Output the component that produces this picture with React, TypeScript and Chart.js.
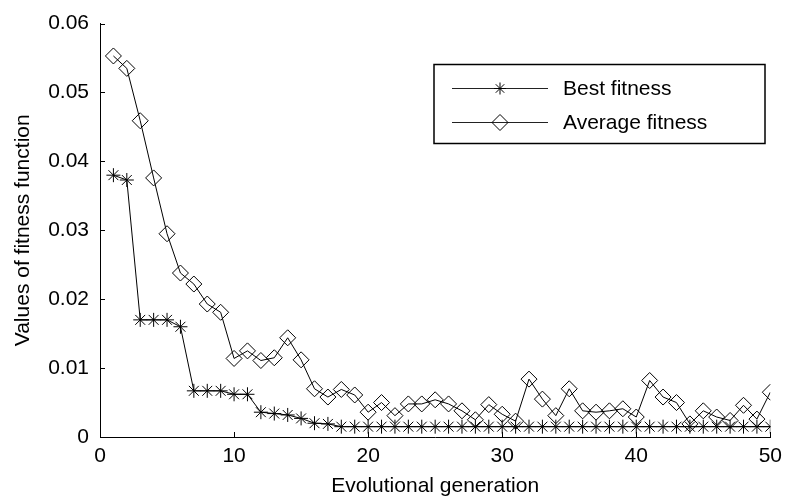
import React, { useEffect, useRef } from 'react';
import { Chart, registerables } from 'chart.js';

Chart.register(...registerables);

const generations = [
  1, 2, 3, 4, 5, 6, 7, 8, 9, 10,
  11, 12, 13, 14, 15, 16, 17, 18, 19, 20,
  21, 22, 23, 24, 25, 26, 27, 28, 29, 30,
  31, 32, 33, 34, 35, 36, 37, 38, 39, 40,
  41, 42, 43, 44, 45, 46, 47, 48, 49, 50,
];

const bestFitness = [
  0.038, 0.0373, 0.017, 0.017, 0.017, 0.016, 0.0067, 0.0067, 0.0067, 0.0062,
  0.0062, 0.0036, 0.0034, 0.0032, 0.0027, 0.002, 0.0019, 0.0015, 0.0015, 0.0015,
  0.0015, 0.0015, 0.0015, 0.0015, 0.0015, 0.0015, 0.0015, 0.0015, 0.0015, 0.0015,
  0.0015, 0.0015, 0.0015, 0.0015, 0.0015, 0.0015, 0.0015, 0.0015, 0.0015, 0.0015,
  0.0015, 0.0015, 0.0015, 0.0015, 0.0015, 0.0015, 0.0015, 0.0015, 0.0015, 0.0015,
];

const averageFitness = [
  0.0553, 0.0535, 0.0459, 0.0376, 0.0295, 0.0238, 0.0222, 0.0193, 0.0181, 0.0114,
  0.0125, 0.0111, 0.0115, 0.0144, 0.0112, 0.007, 0.0058, 0.0069, 0.0061, 0.0036,
  0.005, 0.0031, 0.0048, 0.0048, 0.0054, 0.0048, 0.0038, 0.0025, 0.0047, 0.0033,
  0.0023, 0.0084, 0.0055, 0.0031, 0.007, 0.0038, 0.0036, 0.0038, 0.0041, 0.0029,
  0.0082, 0.0058, 0.005, 0.0019, 0.0038, 0.0029, 0.0024, 0.0046, 0.0026, 0.0065,
];

const xTickValues = [0, 10, 20, 30, 40, 50];
const yTickValues = [0, 0.01, 0.02, 0.03, 0.04, 0.05, 0.06];
const seriesNames = ['Best fitness', 'Average fitness'];
const xTitle = 'Evolutional generation';
const yTitle = 'Values of fitness function';

const FONT = "'Liberation Sans', Arial, Helvetica, sans-serif";

function drawStar(ctx: CanvasRenderingContext2D, x: number, y: number, r: number) {
  ctx.beginPath();
  ctx.moveTo(x - r, y); ctx.lineTo(x + r, y);
  ctx.moveTo(x, y - r); ctx.lineTo(x, y + r);
  const d = r * Math.SQRT1_2;
  ctx.moveTo(x - d, y - d); ctx.lineTo(x + d, y + d);
  ctx.moveTo(x - d, y + d); ctx.lineTo(x + d, y - d);
  ctx.stroke();
}

function drawDiamond(ctx: CanvasRenderingContext2D, x: number, y: number, r: number) {
  ctx.beginPath();
  ctx.moveTo(x - r, y);
  ctx.lineTo(x, y - r);
  ctx.lineTo(x + r, y);
  ctx.lineTo(x, y + r);
  ctx.closePath();
  ctx.stroke();
}

export default function App() {
  const ref = useRef<HTMLCanvasElement>(null);

  useEffect(() => {
    document.body.style.margin = '0';
    if (!ref.current) return;

    const inwardTicks = {
      id: 'inwardTicks',
      afterDatasetsDraw(chart: any) {
        const { ctx, scales, chartArea } = chart;
        ctx.save();
        ctx.strokeStyle = '#000';
        ctx.lineWidth = 1;
        ctx.beginPath();
        yTickValues.forEach((v) => {
          const py = Math.round(scales.y.getPixelForValue(v)) + 0.5;
          ctx.moveTo(chartArea.left, py);
          ctx.lineTo(chartArea.left + 5, py);
        });
        xTickValues.forEach((v) => {
          const px = Math.round(scales.x.getPixelForValue(v)) + 0.5;
          ctx.moveTo(px, chartArea.bottom);
          ctx.lineTo(px, chartArea.bottom - 5);
        });
        ctx.stroke();
        ctx.restore();
      },
    };

    const boxLegend = {
      id: 'boxLegend',
      afterDraw(chart: any) {
        const ctx = chart.ctx as CanvasRenderingContext2D;
        ctx.save();
        ctx.strokeStyle = '#000';
        ctx.lineWidth = 1.5;
        ctx.strokeRect(434, 64.5, 331, 79);
        const rows = [88, 122];
        rows.forEach((ry, i) => {
          ctx.strokeStyle = '#222';
          ctx.lineWidth = 1;
          ctx.beginPath();
          ctx.moveTo(452, ry + 0.5);
          ctx.lineTo(548, ry + 0.5);
          ctx.stroke();
          ctx.strokeStyle = '#000';
          if (i === 0) drawStar(ctx, 500, ry + 0.5, 6);
          else drawDiamond(ctx, 500, ry + 0.5, 8);
          ctx.fillStyle = '#000';
          ctx.font = `21px ${FONT}`;
          ctx.textAlign = 'left';
          ctx.textBaseline = 'middle';
          ctx.fillText(seriesNames[i], 563, ry + 1);
        });
        ctx.restore();
      },
    };

    const chart = new Chart(ref.current, {
      type: 'line',
      data: {
        datasets: [
          {
            label: seriesNames[0],
            data: generations.map((g, i) => ({ x: g, y: bestFitness[i] })),
            borderColor: '#000',
            borderWidth: 1,
            pointStyle: 'star',
            pointRadius: 7,
            pointBorderColor: '#000',
            pointBorderWidth: 1,
            pointBackgroundColor: 'rgba(0,0,0,0)',
            tension: 0,
            fill: false,
          },
          {
            label: seriesNames[1],
            data: generations.map((g, i) => ({ x: g, y: averageFitness[i] })),
            borderColor: '#000',
            borderWidth: 1,
            pointStyle: 'rectRot',
            pointRadius: 8,
            pointBorderColor: '#000',
            pointBorderWidth: 1,
            pointBackgroundColor: 'rgba(0,0,0,0)',
            tension: 0,
            fill: false,
          },
        ],
      },
      options: {
        responsive: false,
        animation: false,
        layout: { padding: { top: 19, right: 14, bottom: 0, left: 0 } },
        plugins: {
          legend: { display: false },
          tooltip: { enabled: false },
        },
        scales: {
          x: {
            type: 'linear',
            min: 0,
            max: 50,
            afterBuildTicks(scale: any) {
              scale.ticks = xTickValues.map((v) => ({ value: v }));
            },
            afterFit(scale: any) {
              scale.height = 62;
            },
            grid: { display: false, drawTicks: false },
            border: { display: true, color: '#000', width: 1 },
            ticks: {
              color: '#000',
              font: { family: FONT, size: 21 },
              padding: 7,
              maxRotation: 0,
              autoSkip: false,
            },
            title: {
              display: true,
              text: xTitle,
              color: '#000',
              font: { family: FONT, size: 21 },
              padding: { top: 0, bottom: 0 },
            },
          },
          y: {
            type: 'linear',
            min: 0,
            max: 0.06,
            afterBuildTicks(scale: any) {
              scale.ticks = yTickValues.map((v) => ({ value: v }));
            },
            afterFit(scale: any) {
              scale.width = 100;
            },
            grid: { display: false, drawTicks: false },
            border: { display: true, color: '#000', width: 1 },
            ticks: {
              color: '#000',
              font: { family: FONT, size: 21 },
              padding: 11,
              callback: (v: any) => String(Number(v)),
            },
            title: {
              display: true,
              text: yTitle,
              color: '#000',
              font: { family: FONT, size: 21 },
              padding: { top: 11, bottom: 0 },
            },
          },
        },
      },
      plugins: [inwardTicks, boxLegend],
    });

    return () => chart.destroy();
  }, []);

  return (
    <div style={{ position: 'fixed', left: 0, top: 0, width: 789, height: 499, background: '#fff' }}>
      <canvas ref={ref} width={789} height={499} />
    </div>
  );
}
